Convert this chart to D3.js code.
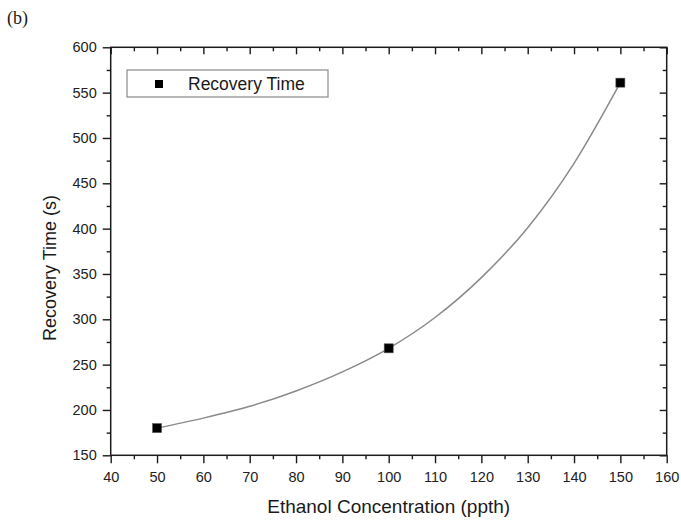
<!DOCTYPE html>
<html>
<head>
<meta charset="utf-8">
<script src="https://cdn.jsdelivr.net/npm/d3@7"></script>
<style>
  html, body { margin: 0; padding: 0; background: #ffffff; }
  svg { display: block; }
  .tick text { font-family: "Liberation Sans", Arial, sans-serif; font-size: 14.5px; fill: #222; }
</style>
</head>
<body>
<svg id="chart" width="681" height="520"></svg>
<script>
// Measured recovery times
const concentrations = [50, 100, 150];
const recoveryTimes = [180, 268, 561];

// Exponential fit curve, sampled every 10 ppth
const fitX = [50, 60, 70, 80, 90, 100, 110, 120, 130, 140, 150];
const fitY = [180, 191, 204, 221, 242, 268, 302, 346, 401, 472, 561];

// Axis ticks
const xMajor = [40, 50, 60, 70, 80, 90, 100, 110, 120, 130, 140, 150, 160];
const xMinor = [45, 55, 65, 75, 85, 95, 105, 115, 125, 135, 145, 155];
const yMajor = [150, 200, 250, 300, 350, 400, 450, 500, 550, 600];
const yMinor = [175, 225, 275, 325, 375, 425, 475, 525, 575];

const seriesName = "Recovery Time";
const xTitle = "Ethanol Concentration (ppth)";
const yTitle = "Recovery Time (s)";
const panelLabel = "(b)";

const svg = d3.select("#chart");
const plotLeft = 110.7, plotRight = 666.7, plotTop = 47.3, plotBottom = 455.3;

const x = d3.scaleLinear().domain([40, 160]).range([plotLeft, plotRight]);
const y = d3.scaleLinear().domain([150, 600]).range([plotBottom, plotTop]);

const axisColor = "#1a1a1a";
function styleAxis(g) {
  g.select(".domain").remove();
  g.selectAll(".tick line").attr("stroke", axisColor).attr("stroke-width", 1.4);
}

// Bottom axis: outward ticks with labels
svg.append("g").attr("transform", `translate(0,${plotBottom})`)
  .call(d3.axisBottom(x).tickValues(xMajor).tickSize(8).tickPadding(8).tickFormat(d3.format("d")))
  .call(styleAxis);
svg.append("g").attr("transform", `translate(0,${plotBottom})`)
  .call(d3.axisBottom(x).tickValues(xMinor).tickSize(4).tickFormat(""))
  .call(styleAxis);

// Left axis: outward ticks with labels
svg.append("g").attr("transform", `translate(${plotLeft},0)`)
  .call(d3.axisLeft(y).tickValues(yMajor).tickSize(8).tickPadding(6).tickFormat(d3.format("d")))
  .call(styleAxis);
svg.append("g").attr("transform", `translate(${plotLeft},0)`)
  .call(d3.axisLeft(y).tickValues(yMinor).tickSize(4).tickFormat(""))
  .call(styleAxis);

// Top and right mirror axes: inward ticks, no labels
svg.append("g").attr("transform", `translate(0,${plotTop})`)
  .call(d3.axisTop(x).tickValues(xMajor).tickSize(-7).tickFormat(""))
  .call(styleAxis);
svg.append("g").attr("transform", `translate(0,${plotTop})`)
  .call(d3.axisTop(x).tickValues(xMinor).tickSize(-4).tickFormat(""))
  .call(styleAxis);
svg.append("g").attr("transform", `translate(${plotRight},0)`)
  .call(d3.axisRight(y).tickValues(yMajor).tickSize(-7).tickFormat(""))
  .call(styleAxis);
svg.append("g").attr("transform", `translate(${plotRight},0)`)
  .call(d3.axisRight(y).tickValues(yMinor).tickSize(-4).tickFormat(""))
  .call(styleAxis);

// Plot frame
svg.append("rect")
  .attr("x", plotLeft).attr("y", plotTop)
  .attr("width", plotRight - plotLeft).attr("height", plotBottom - plotTop)
  .attr("fill", "none").attr("stroke", axisColor).attr("stroke-width", 1.5);

// Fit curve
const line = d3.line()
  .x((d, i) => x(fitX[i]))
  .y(d => y(d))
  .curve(d3.curveMonotoneX);
svg.append("path")
  .datum(fitY)
  .attr("d", line)
  .attr("fill", "none")
  .attr("stroke", "#8a8a8a")
  .attr("stroke-width", 1.5);

// Data markers
const ms = 9;
svg.append("g").selectAll("rect")
  .data(recoveryTimes)
  .join("rect")
  .attr("x", (d, i) => x(concentrations[i]) - ms / 2)
  .attr("y", d => y(d) - ms / 2)
  .attr("width", ms).attr("height", ms)
  .attr("fill", "#000")
  .attr("stroke", "#555").attr("stroke-width", 0.6);

// Legend
const legend = svg.append("g");
legend.append("rect")
  .attr("x", 127).attr("y", 70).attr("width", 201).attr("height", 27)
  .attr("fill", "#fff").attr("stroke", "#8a8a8a").attr("stroke-width", 1.2);
legend.append("rect")
  .attr("x", 159 - 4).attr("y", 84 - 4).attr("width", 8).attr("height", 8)
  .attr("fill", "#000");
legend.append("text")
  .attr("x", 188).attr("y", 90)
  .attr("font-family", "Liberation Sans, Arial, sans-serif")
  .attr("font-size", 17.5).attr("fill", "#1a1a1a")
  .text(seriesName);

// Axis titles
svg.append("text")
  .attr("x", (plotLeft + plotRight) / 2).attr("y", 513)
  .attr("text-anchor", "middle")
  .attr("font-family", "Liberation Sans, Arial, sans-serif")
  .attr("font-size", 19).attr("fill", "#1a1a1a")
  .text(xTitle);
svg.append("text")
  .attr("transform", "translate(56,268) rotate(-90)")
  .attr("text-anchor", "middle")
  .attr("font-family", "Liberation Sans, Arial, sans-serif")
  .attr("font-size", 18).attr("fill", "#1a1a1a")
  .text(yTitle);

// Panel label
svg.append("text")
  .attr("x", 7).attr("y", 24)
  .attr("font-family", "Liberation Serif, Times New Roman, serif")
  .attr("font-size", 18).attr("fill", "#1a1a1a")
  .text(panelLabel);
</script>
</body>
</html>
